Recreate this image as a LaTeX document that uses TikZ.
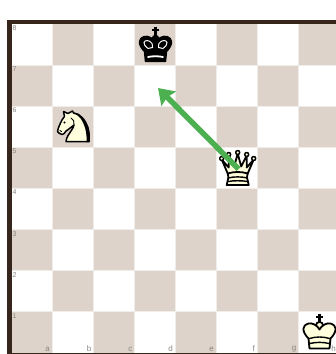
\documentclass[tikz,border=0pt]{standalone}
\usepackage{fontspec}
\setmainfont{Liberation Sans}
\usetikzlibrary{arrows.meta}
\definecolor{frame}{HTML}{35251A}
\definecolor{darksq}{HTML}{DDD3CA}
\definecolor{gridl}{HTML}{F1EDE9}
\definecolor{cream}{HTML}{FFFFDD}
\definecolor{arrowg}{HTML}{4CB050}
\definecolor{coord}{HTML}{8A8580}
\tikzset{
  rankl/.style={inner sep=0pt,anchor=north west,text=coord,font=\fontsize{7}{7}\selectfont},
  filel/.style={inner sep=0pt,anchor=south east,text=coord,font=\fontsize{8}{8}\selectfont},
  whitepiece/.style={fill=cream,draw=black,line width=1.8pt,line join=round},
  blackpiece/.style={fill=black,draw=black,line width=1.4pt,line join=round},
  innerblack/.style={draw=black,line width=1.4pt,line cap=round},
  innerwhite/.style={draw=white,line width=1pt,line cap=round},
  movearrow/.style={draw=arrowg,line width=5.5pt,-{Stealth[length=15pt,width=20pt,inset=2pt]}}
}
\newcommand{\crownpath}{(-10,17) -- (10,17) -- (11,7) .. controls (14,4) and (16.5,0) .. (16,-3) .. controls (15.5,-8) and (9,-9.5) .. (5,-7) .. controls (3,-6) and (1,-4) .. (0,-2) .. controls (-1,-4) and (-3,-6) .. (-5,-7) .. controls (-9,-9.5) and (-15.5,-8) .. (-16,-3) .. controls (-16.5,0) and (-14,4) .. (-11,7) -- cycle}
\newcommand{\crossmark}{(0,-18) -- (0,-9) (-3.5,-14.5) -- (3.5,-14.5)}
\begin{document}
\begin{tikzpicture}[x=1pt,y=-1pt]
\useasboundingbox (0,0) rectangle (336,354);
\fill[white] (0,0) rectangle (336,354);
% board
\fill[frame] (7,20) rectangle (336,354);
\fill[white] (11.5,24) rectangle (336,353);
\foreach \c in {0,...,7}{
  \foreach \r in {0,...,7}{
    \pgfmathparse{int(mod(\c+\r,2))}
    \ifnum\pgfmathresult=1
      \fill[darksq] ({11.5+41*\c},{24+41.1*\r}) rectangle ({11.5+41*(\c+1)},{24+41.1*(\r+1)});
    \fi
  }
}
\foreach \c in {1,...,7}{\draw[gridl,line width=0.8pt] ({11.5+41*\c},24) -- ({11.5+41*\c},353);}
\foreach \r in {1,...,7}{\draw[gridl,line width=0.8pt] (11.5,{24+41.1*\r}) -- (336,{24+41.1*\r});}
% rank labels
\foreach \t [count=\i from 0] in {8,7,6,5,4,3,2,1}{
  \node[rankl] (rank\t) at (12.5,{25.5+41.1*\i}) {\t};
}
% file labels
\foreach \t/\px in {a/50,b/91.5,c/132.5,d/173,e/214,f/255,g/296.5,h/336}{
  \node[filel] (file\t) at (\px,352) {\t};
}
% black king
\begin{scope}[shift={(155.5,44.5)}]
  \fill[black] (0,-6) circle (3.8);
  \draw[black,line width=2.4pt] \crossmark;
  \draw[blackpiece] \crownpath;
  \draw[innerwhite] (-7.5,4) .. controls (-10,2) and (-12,0) .. (-11.5,-2) .. controls (-11,-4.5) and (-6,-5) .. (-3.5,-1) .. controls (-3,0) and (-3,2) .. (-3,3) .. controls (-4.5,3) and (-6,3.3) .. (-7.5,4) -- cycle;
  \draw[innerwhite] (7.5,4) .. controls (10,2) and (12,0) .. (11.5,-2) .. controls (11,-4.5) and (6,-5) .. (3.5,-1) .. controls (3,0) and (3,2) .. (3,3) .. controls (4.5,3) and (6,3.3) .. (7.5,4) -- cycle;
  \draw[draw=white,line width=1.8pt,line cap=round] (-7.5,12.5) .. controls (-3,11.5) and (3,11.5) .. (7.5,12.5);
\end{scope}
% white king
\begin{scope}[shift={(319.5,331.5)}]
  \draw[black,line width=2.4pt] \crossmark;
  \draw[whitepiece] (0,-6) circle (3.6);
  \draw[whitepiece] \crownpath;
  \draw[innerblack] (-10,7) .. controls (-4,5) and (4,5) .. (10,7);
  \draw[innerblack] (-9.5,12) .. controls (-4,10.5) and (4,10.5) .. (9.5,12);
\end{scope}
% white queen
\begin{scope}[shift={(237.7,168.5)}]
  \draw[whitepiece] (-10,5) -- (-16,-9) -- (-9,-1) -- (-9,-13) -- (-3.5,-2) -- (0,-15) -- (3.5,-2) -- (9,-13) -- (9,-1) -- (16,-9) -- (10,5) -- cycle;
  \draw[whitepiece] (-10,5) .. controls (-9,8) and (-9,10) .. (-10,12) -- (-11,16.5) -- (11,16.5) -- (10,12) .. controls (9,10) and (9,8) .. (10,5) .. controls (4,3) and (-4,3) .. (-10,5) -- cycle;
  \draw[innerblack] (-9.5,9.5) .. controls (-4,8) and (4,8) .. (9.5,9.5);
  \draw[innerblack] (-10,13) .. controls (-4,12) and (4,12) .. (10,13);
  \foreach \bx/\by in {-16/-10,-9/-14,0/-16,9/-14,16/-10}{
    \draw[whitepiece,line width=1.5pt] (\bx,\by) circle (2);
  }
\end{scope}
% white knight
\draw[whitepiece,line width=1.5pt] (66,141.5) .. controls (66.5,137) and (69,134) .. (71,131) .. controls (73,128) and (74,126) .. (74,125) .. controls (71,127) and (68,130) .. (66,131) .. controls (64.5,133) and (63.5,135) .. (62,134.5) .. controls (60,133.5) and (58,133) .. (57.5,131.5) .. controls (58,128) and (60,124) .. (62,120) .. controls (63,118) and (64,117.5) .. (64.5,116.5) -- (63.5,111.5) -- (68,113.5) -- (72.5,111) -- (73.5,113) .. controls (80,113.5) and (85,120) .. (87.5,127) .. controls (89,132) and (89.5,137) .. (89,141.5) -- cycle;
\fill[black] (73.5,112.5) .. controls (81,113) and (86,120) .. (88.5,127) .. controls (90,132) and (90,137) .. (89.7,142) -- (86.5,142) .. controls (87,134) and (85.5,126) .. (81,119) .. controls (79,116) and (76,114.5) .. (73.5,112.5) -- cycle;
\fill[black] (64.5,122.5) circle (1.1);
\draw[innerblack,line width=0.9pt] (74,125) .. controls (75,122) and (73,119) .. (71,118);
\draw[innerblack,line width=0.9pt] (60,130.5) -- (61.5,131.5);
% move arrow
\coordinate (movefrom) at (238.5,169);
\coordinate (moveto) at (158,88);
\draw[movearrow] (movefrom) -- (moveto);
\end{tikzpicture}
\end{document}
